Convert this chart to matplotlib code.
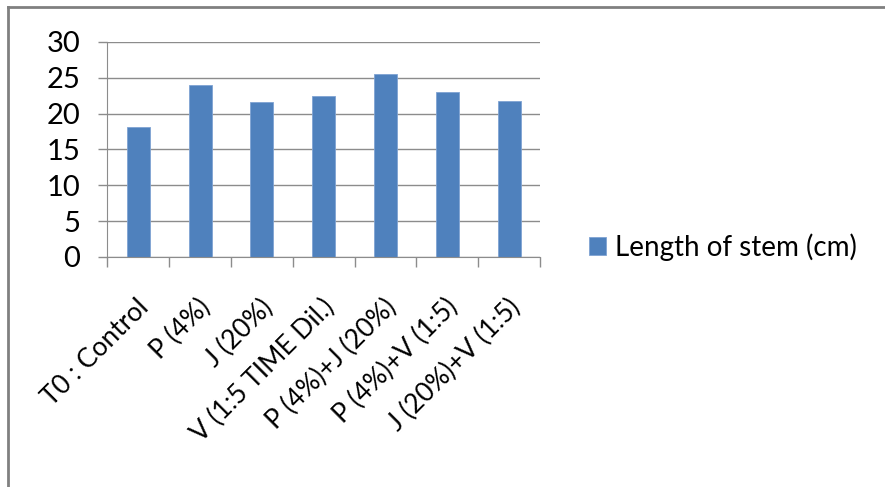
import matplotlib.pyplot as plt
from matplotlib.lines import Line2D
from matplotlib.transforms import ScaledTranslation

plt.rcParams['font.family'] = ['Lato', 'DejaVu Sans']

categories = ["T0 : Control", "P (4%)", "J (20%)", "V (1:5 TIME Dil.)",
              "P (4%)+J (20%)", "P (4%)+V (1:5)", "J (20%)+V (1:5)"]
stem_length = [18.1, 24.0, 21.6, 22.4, 25.5, 23.0, 21.8]
series_name = "Length of stem (cm)"
yticks = [0, 5, 10, 15, 20, 25, 30]

fig = plt.figure(figsize=(8.85, 4.87), dpi=100)
ax = fig.add_axes([0.1213, 0.4723, 0.4889, 0.4415])

x = list(range(len(categories)))
bars = ax.bar(x, stem_length, width=0.37, color="#4F81BD", edgecolor="#7FA3D3",
              linewidth=0.6, zorder=3, label=series_name)

ax.set_xlim(-0.5, len(categories) - 0.5)
ax.set_ylim(0, 30)
ax.set_yticks(yticks)
ax.yaxis.grid(True, color="#8c8c8c", linewidth=1.0, zorder=0)
ax.tick_params(axis="y", length=6.5, width=1.0, color="#8c8c8c", labelsize=21, pad=13)

# category ticks sit on the boundaries between bars
ax.set_xticks([i - 0.5 for i in range(len(categories) + 1)])
ax.set_xticklabels([])
ax.tick_params(axis="x", length=7, width=1.0, color="#8c8c8c")
ax.set_xticks(x, minor=True)
ax.set_xticklabels(categories, minor=True, rotation=45, ha="right",
                   rotation_mode="anchor", fontsize=19)
ax.tick_params(axis="x", which="minor", length=0, pad=27)
shift = ScaledTranslation(-2 / 100, 0, fig.dpi_scale_trans)
for lbl in ax.get_xticklabels(minor=True):
    lbl.set_transform(lbl.get_transform() + shift)

for side in ["top", "right"]:
    ax.spines[side].set_visible(False)
ax.spines["left"].set_color("#8c8c8c")
ax.spines["bottom"].set_color("#8c8c8c")
ax.spines["left"].set_zorder(4)
ax.spines["bottom"].set_zorder(4)

leg = fig.legend(handles=[bars], labels=[series_name], loc="center left",
                 bbox_to_anchor=(0.6655, 0.492), frameon=False, fontsize=20,
                 handlelength=0.62, handleheight=0.62, handletextpad=0.32,
                 borderaxespad=0, borderpad=0)

# outer frame (only top and left edges are visible in the crop)
fig.add_artist(Line2D([0.009, 1.0], [0.986, 0.986], transform=fig.transFigure,
                      color="#808080", linewidth=2.0))
fig.add_artist(Line2D([0.009, 0.009], [0.0, 0.986], transform=fig.transFigure,
                      color="#808080", linewidth=2.0))

fig.savefig("out.png", dpi=100)
